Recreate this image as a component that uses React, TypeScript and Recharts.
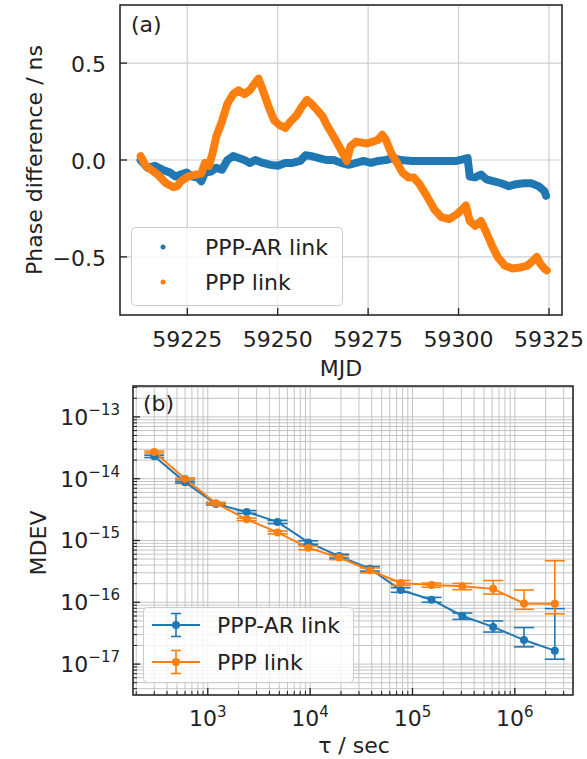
import {
  ComposedChart,
  Line,
  XAxis,
  YAxis,
  CartesianGrid,
  ReferenceArea,
  ErrorBar,
} from 'recharts';

// ---- panel (a): phase difference vs MJD ----
const AR_MJD = [
  59212.1, 59214.0, 59216.0, 59218.1, 59220.2, 59221.7, 59223.2, 59224.8, 59226.3, 59227.9,
  59228.9, 59229.9, 59231.5, 59233.0, 59234.6, 59236.1, 59237.7, 59239.2, 59240.8, 59242.3,
  59243.8, 59245.9, 59248.0, 59250.0, 59252.1, 59254.1, 59256.2, 59257.7, 59259.3, 59261.4,
  59263.4, 59265.5, 59267.5, 59269.6, 59271.7, 59273.7, 59275.8, 59277.8, 59279.9, 59282.0,
  59284.0, 59287.1, 59290.2, 59293.3, 59296.4, 59299.5, 59302.5, 59303.1, 59304.6, 59306.2,
  59307.7, 59309.8, 59311.8, 59313.9, 59315.9, 59318.0, 59320.1, 59322.1, 59323.7, 59324.2,
];
const AR_PHASE = [
  0.0, -0.04, -0.03, -0.05, -0.065, -0.085, -0.075, -0.065, -0.085, -0.09,
  -0.11, -0.065, -0.06, -0.04, -0.05, 0.0, 0.02, 0.01, 0.0, -0.015,
  0.0, -0.015, -0.025, -0.03, -0.015, -0.015, -0.005, 0.025, 0.02, 0.01,
  0.0, 0.0, -0.015, -0.025, -0.015, -0.005, -0.015, -0.005, 0.0, 0.01,
  0.0, -0.005, -0.005, -0.005, -0.005, -0.005, 0.01, -0.085, -0.09, -0.075,
  -0.1, -0.11, -0.12, -0.135, -0.125, -0.12, -0.12, -0.135, -0.16, -0.185,
];

const PPP_MJD = [
  59212.1, 59213.5, 59215.0, 59217.1, 59219.1, 59221.2, 59222.2, 59223.2, 59225.3, 59227.4,
  59228.9, 59229.9, 59231.0, 59232.0, 59233.0, 59234.6, 59236.1, 59237.7, 59239.2, 59240.8,
  59242.3, 59243.8, 59244.7, 59245.9, 59247.5, 59249.0, 59250.5, 59252.1, 59253.6, 59255.2,
  59256.7, 59258.1, 59259.3, 59260.8, 59262.4, 59263.9, 59265.5, 59267.0, 59268.4, 59269.1,
  59270.1, 59271.7, 59273.2, 59274.7, 59276.3, 59277.8, 59278.9, 59279.9, 59281.4, 59283.0,
  59284.5, 59286.1, 59287.6, 59289.2, 59291.2, 59293.3, 59295.3, 59297.4, 59299.5, 59301.0,
  59302.0, 59303.1, 59304.6, 59306.2, 59307.7, 59309.2, 59310.8, 59312.8, 59314.9, 59317.0,
  59319.0, 59320.6, 59321.6, 59322.6, 59323.7, 59324.4,
];
const PPP_PHASE = [
  0.02, -0.03, -0.05, -0.08, -0.12, -0.14, -0.135, -0.11, -0.085, -0.075,
  -0.07, -0.015, -0.03, 0.035, 0.12, 0.2, 0.29, 0.34, 0.36, 0.34,
  0.36, 0.4, 0.42, 0.36, 0.275, 0.205, 0.18, 0.165, 0.2, 0.23,
  0.275, 0.31, 0.29, 0.26, 0.225, 0.17, 0.12, 0.07, 0.02, -0.005,
  0.07, 0.095, 0.09, 0.085, 0.095, 0.105, 0.13, 0.105, 0.035, -0.015,
  -0.065, -0.09, -0.09, -0.125, -0.185, -0.255, -0.295, -0.305, -0.28, -0.255,
  -0.235, -0.315, -0.34, -0.315, -0.375, -0.44, -0.5, -0.545, -0.56, -0.555,
  -0.545, -0.52, -0.5, -0.535, -0.56, -0.57,
];

const MJD_TICKS = [59225, 59250, 59275, 59300, 59325];
const PHASE_TICKS = [-0.5, 0, 0.5];

// ---- panel (b): MDEV vs averaging time ----
const TAU = [300, 600, 1200, 2400, 4800, 9600, 19200, 38400, 76800, 153600, 307200, 614400, 1228800, 2457600];
const AR_MDEV = [2.3e-14, 8.8e-15, 3.9e-15, 2.9e-15, 2.0e-15, 9.3e-16, 5.6e-16, 3.5e-16, 1.58e-16, 1.1e-16, 6.0e-17, 4.0e-17, 2.45e-17, 1.65e-17];
const AR_LOW = [2.2e-14, 8.5e-15, 3.75e-15, 2.75e-15, 1.88e-15, 8.7e-16, 5.2e-16, 3.2e-16, 1.45e-16, 1.0e-16, 5.3e-17, 3.3e-17, 1.9e-17, 1.2e-17];
const AR_HIGH = [2.4e-14, 9.1e-15, 4.05e-15, 3.05e-15, 2.12e-15, 9.9e-16, 6.0e-16, 3.8e-16, 1.72e-16, 1.2e-16, 6.7e-17, 5.0e-17, 3.9e-17, 7.9e-17];
const PPP_MDEV = [2.7e-14, 1.0e-14, 4.0e-15, 2.2e-15, 1.35e-15, 7.6e-16, 5.3e-16, 3.3e-16, 2.06e-16, 1.9e-16, 1.82e-16, 1.65e-16, 9.6e-17, 9.5e-17];
const PPP_LOW = [2.6e-14, 9.7e-15, 3.85e-15, 2.1e-15, 1.28e-15, 7.1e-16, 4.9e-16, 3.0e-16, 1.88e-16, 1.75e-16, 1.6e-16, 1.36e-16, 7.7e-17, 6.5e-17];
const PPP_HIGH = [2.8e-14, 1.03e-14, 4.15e-15, 2.3e-15, 1.42e-15, 8.1e-16, 5.7e-16, 3.6e-16, 2.25e-16, 2.05e-16, 2.02e-16, 2.25e-16, 1.58e-16, 4.7e-16];

const TAU_DECADES = [2, 3, 4, 5, 6];
const MDEV_DECADES = [-18, -17, -16, -15, -14, -13];
const MANTISSAS = [1, 2, 3, 4, 5, 6, 7, 8, 9];

const BLUE = '#1f77b4';
const ORANGE = '#ff7f0e';
const INK = '#222';
const FONT = '"DejaVu Sans", sans-serif';

const TAU_DOMAIN: [number, number] = [186, 3.7e6];
const MDEV_DOMAIN: [number, number] = [3.162e-18, 3.162e-13];
const MJD_DOMAIN: [number, number] = [59206.4, 59328.6];

const arRows = AR_MJD.map((mjd, i) => ({ mjd, v: AR_PHASE[i] }));
const pppRows = PPP_MJD.map((mjd, i) => ({ mjd, v: PPP_PHASE[i] }));

const mdevRows = TAU.map((tau, i) => ({
  tau,
  ar: AR_MDEV[i],
  arErr: [AR_MDEV[i] - AR_LOW[i], AR_HIGH[i] - AR_MDEV[i]],
  ppp: PPP_MDEV[i],
  pppErr: [PPP_MDEV[i] - PPP_LOW[i], PPP_HIGH[i] - PPP_MDEV[i]],
}));

function logTicks(decades: number[], domain: [number, number]) {
  const out: number[] = [];
  decades.forEach((d) =>
    MANTISSAS.forEach((m) => {
      const v = m * Math.pow(10, d);
      if (v >= domain[0] && v <= domain[1]) out.push(v);
    })
  );
  return out;
}
const tauTicks = logTicks(TAU_DECADES, TAU_DOMAIN);
const mdevTicks = logTicks(MDEV_DECADES, MDEV_DOMAIN);

const isMajor = (v: number) => {
  const l = Math.log10(v);
  return Math.abs(l - Math.round(l)) < 1e-6;
};
const expText = (e: number) => (e < 0 ? '\u2212' + -e : String(e));

function PhaseXTick({ x, y, payload }: any) {
  return (
    <g>
      <line x1={x} x2={x} y1={y} y2={y - 7} stroke={INK} strokeWidth={1.3} />
      <text x={x} y={y + 32} textAnchor="middle" fontSize={22} fill={INK} fontFamily={FONT}>
        {payload.value}
      </text>
    </g>
  );
}

function PhaseYTick({ x, y, payload }: any) {
  const label = payload.value.toFixed(1).replace('-', '\u2212');
  return (
    <g>
      <line x1={x} x2={x + 7} y1={y} y2={y} stroke={INK} strokeWidth={1.3} />
      <text x={x - 14} y={y + 9} textAnchor="end" fontSize={22} fill={INK} fontFamily={FONT}>
        {label}
      </text>
    </g>
  );
}

function TauTick({ x, y, payload }: any) {
  const major = isMajor(payload.value);
  const e = Math.round(Math.log10(payload.value));
  return (
    <g>
      <line x1={x} x2={x} y1={y} y2={y - (major ? 7 : 4)} stroke={INK} strokeWidth={major ? 1.3 : 1} />
      {major && (
        <text x={x} y={y + 31} textAnchor="middle" fontSize={22} fill={INK} fontFamily={FONT}>
          <tspan>10</tspan>
          <tspan dy={-9} fontSize={15}>{expText(e)}</tspan>
        </text>
      )}
    </g>
  );
}

function MdevTick({ x, y, payload }: any) {
  const major = isMajor(payload.value);
  const e = Math.round(Math.log10(payload.value));
  return (
    <g>
      <line x1={x} x2={x + (major ? 7 : 4)} y1={y} y2={y} stroke={INK} strokeWidth={major ? 1.3 : 1} />
      {major && (
        <text x={x - 13} y={y + 8} textAnchor="end" fontSize={22} fill={INK} fontFamily={FONT}>
          <tspan>10</tspan>
          <tspan dy={-10} fontSize={15}>{expText(e)}</tspan>
        </text>
      )}
    </g>
  );
}

function PhasePanel() {
  return (
    <ComposedChart width={587} height={380} margin={{ top: 5, right: 25, bottom: 0, left: 0 }}>
      <CartesianGrid stroke="#cfcfcf" strokeWidth={1.2} />
      <XAxis
        type="number"
        dataKey="mjd"
        domain={MJD_DOMAIN}
        ticks={MJD_TICKS}
        interval={0}
        allowDataOverflow
        height={65}
        axisLine={false}
        tickLine={false}
        tickSize={0}
        tickMargin={0}
        tick={<PhaseXTick />}
      />
      <YAxis
        type="number"
        domain={[-0.8, 0.8]}
        ticks={PHASE_TICKS}
        interval={0}
        allowDataOverflow
        width={120}
        axisLine={false}
        tickLine={false}
        tickSize={0}
        tickMargin={0}
        tick={<PhaseYTick />}
      />
      <Line
        data={arRows}
        dataKey="v"
        type="linear"
        stroke={BLUE}
        strokeWidth={8}
        strokeLinejoin="round"
        strokeLinecap="round"
        dot={false}
        activeDot={false}
        isAnimationActive={false}
      />
      <Line
        data={pppRows}
        dataKey="v"
        type="linear"
        stroke={ORANGE}
        strokeWidth={8}
        strokeLinejoin="round"
        strokeLinecap="round"
        dot={false}
        activeDot={false}
        isAnimationActive={false}
      />
      <ReferenceArea
        x1={MJD_DOMAIN[0]}
        x2={MJD_DOMAIN[1]}
        y1={-0.8}
        y2={0.8}
        fill="none"
        fillOpacity={0}
        stroke={INK}
        strokeWidth={1.5}
        ifOverflow="visible"
      />
    </ComposedChart>
  );
}

function MdevPanel() {
  return (
    <ComposedChart width={587} height={379} data={mdevRows} margin={{ top: 6, right: 14, bottom: 0, left: 0 }}>
      <CartesianGrid stroke="#c4c4c4" strokeWidth={1} />
      <XAxis
        type="number"
        dataKey="tau"
        scale="log"
        domain={TAU_DOMAIN}
        ticks={tauTicks}
        interval={0}
        allowDataOverflow
        height={64}
        axisLine={false}
        tickLine={false}
        tickSize={0}
        tickMargin={0}
        tick={<TauTick />}
      />
      <YAxis
        type="number"
        scale="log"
        domain={MDEV_DOMAIN}
        ticks={mdevTicks}
        interval={0}
        allowDataOverflow
        width={133}
        axisLine={false}
        tickLine={false}
        tickSize={0}
        tickMargin={0}
        tick={<MdevTick />}
      />
      <Line
        dataKey="ar"
        type="linear"
        stroke={BLUE}
        strokeWidth={2}
        dot={{ r: 4, fill: BLUE, stroke: BLUE, strokeWidth: 0 }}
        activeDot={false}
        isAnimationActive={false}
      >
        <ErrorBar dataKey="arErr" direction="y" width={10} stroke={BLUE} strokeWidth={1.6} isAnimationActive={false} />
      </Line>
      <Line
        dataKey="ppp"
        type="linear"
        stroke={ORANGE}
        strokeWidth={2}
        dot={{ r: 4, fill: ORANGE, stroke: ORANGE, strokeWidth: 0 }}
        activeDot={false}
        isAnimationActive={false}
      >
        <ErrorBar dataKey="pppErr" direction="y" width={10} stroke={ORANGE} strokeWidth={1.6} isAnimationActive={false} />
      </Line>
      <ReferenceArea
        x1={TAU_DOMAIN[0]}
        x2={TAU_DOMAIN[1]}
        y1={MDEV_DOMAIN[0]}
        y2={MDEV_DOMAIN[1]}
        fill="none"
        fillOpacity={0}
        stroke={INK}
        strokeWidth={1.5}
        ifOverflow="visible"
      />
    </ComposedChart>
  );
}

const textStyle = (left: number, top: number, rotate = false): React.CSSProperties => ({
  position: 'absolute',
  left,
  top,
  fontSize: 22,
  color: INK,
  whiteSpace: 'nowrap',
  lineHeight: 'normal',
  transform: rotate ? 'translate(-50%, -50%) rotate(-90deg)' : 'translate(-50%, -50%)',
});

function DotLegend() {
  return (
    <svg width={212} height={79} style={{ position: 'absolute', left: 131, top: 227 }}>
      <rect x={0.5} y={0.5} width={211} height={78} rx={4} fill="rgba(255,255,255,0.8)" stroke="#cccccc" />
      <circle cx={32} cy={20} r={2.5} fill={BLUE} />
      <text x={74} y={28} fontSize={22} fill={INK} fontFamily={FONT}>PPP-AR link</text>
      <circle cx={32} cy={55} r={2.5} fill={ORANGE} />
      <text x={74} y={63} fontSize={22} fill={INK} fontFamily={FONT}>PPP link</text>
    </svg>
  );
}

function ErrLegend() {
  const entry = (cy: number, color: string, label: string) => (
    <g>
      <line x1={9} x2={57} y1={cy} y2={cy} stroke={color} strokeWidth={2} />
      <line x1={33} x2={33} y1={cy - 11.5} y2={cy + 11.5} stroke={color} strokeWidth={1.6} />
      <line x1={28} x2={38} y1={cy - 11.5} y2={cy - 11.5} stroke={color} strokeWidth={1.6} />
      <line x1={28} x2={38} y1={cy + 11.5} y2={cy + 11.5} stroke={color} strokeWidth={1.6} />
      <circle cx={33} cy={cy} r={4} fill={color} />
      <text x={74} y={cy + 8} fontSize={22} fill={INK} fontFamily={FONT}>{label}</text>
    </g>
  );
  return (
    <svg width={211} height={76} style={{ position: 'absolute', left: 143, top: 607 }}>
      <rect x={0.5} y={0.5} width={210} height={75} rx={4} fill="rgba(255,255,255,0.8)" stroke="#cccccc" />
      {entry(18, BLUE, 'PPP-AR link')}
      {entry(55, ORANGE, 'PPP link')}
    </svg>
  );
}

export default function App() {
  return (
    <div
      style={{
        position: 'absolute',
        left: 0,
        top: 0,
        width: 587,
        height: 759,
        background: '#fff',
        fontFamily: FONT,
        overflow: 'hidden',
      }}
    >
      <div style={{ position: 'absolute', left: 0, top: 0 }}>
        <PhasePanel />
      </div>
      <div style={{ position: 'absolute', left: 0, top: 380 }}>
        <MdevPanel />
      </div>

      <div style={{ ...textStyle(131, 24), transform: 'translateY(-50%)' }}>(a)</div>
      <div style={textStyle(34, 160, true)}>Phase difference / ns</div>
      <div style={textStyle(341, 368)}>MJD</div>
      <DotLegend />

      <div style={{ ...textStyle(143, 403), transform: 'translateY(-50%)' }}>(b)</div>
      <div style={textStyle(38, 543, true)}>MDEV</div>
      <div style={textStyle(354, 745)}>τ / sec</div>
      <ErrLegend />
    </div>
  );
}
